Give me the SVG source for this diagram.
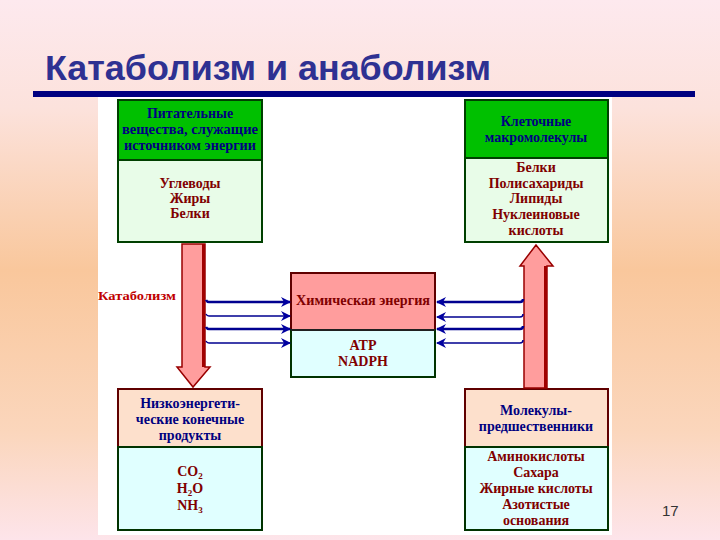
<svg xmlns="http://www.w3.org/2000/svg" width="720" height="540" viewBox="0 0 720 540">
<defs>
<linearGradient id="bg" x1="0" y1="0" x2="0" y2="1">
<stop offset="0" stop-color="#fde9ee"/>
<stop offset="0.2" stop-color="#fce2dc"/>
<stop offset="0.5" stop-color="#f9c79c"/>
<stop offset="0.8" stop-color="#fbd6bc"/>
<stop offset="1" stop-color="#fde4ea"/>
</linearGradient>
<marker id="ah" viewBox="0 0 10 10" refX="9" refY="5" markerWidth="10" markerHeight="10" markerUnits="userSpaceOnUse" orient="auto">
<path d="M0,0 L10,5 L0,10 L3,5 Z" fill="#0000a0"/>
</marker>
<style>
.hd{font-family:"Liberation Serif",serif;font-weight:bold;font-size:14px;fill:#000080;text-anchor:middle}
.bd{font-family:"Liberation Serif",serif;font-weight:bold;font-size:14px;fill:#800000;text-anchor:middle}
.gh{fill:#00c000;stroke:#004000;stroke-width:2}
.gb{fill:#e8fce8;stroke:#004000;stroke-width:2}
.ph{fill:#fde0cc;stroke:#600000;stroke-width:2}
.cb{fill:#e0ffff;stroke:#003300;stroke-width:2}
.bl{stroke:#000090;fill:none}
</style>
</defs>
<rect width="720" height="540" fill="url(#bg)"/>
<rect x="98" y="97" width="514" height="438" fill="#ffffff"/>
<text x="45" y="80" font-family="Liberation Sans, Arial, sans-serif" font-weight="bold" font-size="35" fill="#2e3192" textLength="446" lengthAdjust="spacingAndGlyphs">Катаболизм и анаболизм</text>
<rect x="33" y="91" width="662" height="6" fill="#000080"/>

<g id="nutrients">
<rect class="gh" x="118" y="100" width="144" height="60"/>
<rect class="gb" x="118" y="160" width="144" height="82"/>
<text class="hd" x="190" y="118">Питательные</text>
<text class="hd" x="190" y="134" textLength="136" lengthAdjust="spacingAndGlyphs">вещества, служащие</text>
<text class="hd" x="190" y="150" textLength="132" lengthAdjust="spacingAndGlyphs">источником энергии</text>
<text class="bd" x="190" y="188">Углеводы</text>
<text class="bd" x="190" y="203">Жиры</text>
<text class="bd" x="190" y="218">Белки</text>
</g>

<g id="macromolecules">
<rect class="gh" x="465" y="100" width="143" height="58"/>
<rect class="gb" x="465" y="158" width="143" height="84"/>
<text class="hd" x="536" y="126">Клеточные</text>
<text class="hd" x="536" y="142">макромолекулы</text>
<text class="bd" x="536" y="172">Белки</text>
<text class="bd" x="536" y="188">Полисахариды</text>
<text class="bd" x="536" y="203">Липиды</text>
<text class="bd" x="536" y="219">Нуклеиновые</text>
<text class="bd" x="536" y="235">кислоты</text>
</g>

<g id="energy">
<rect x="291" y="273" width="144" height="57" fill="#ff9d9d" stroke="#600000" stroke-width="2"/>
<rect class="cb" x="291" y="330" width="144" height="47"/>
<line x1="291" y1="330" x2="435" y2="330" stroke="#202020" stroke-width="2"/>
<text class="bd" x="363" y="305" textLength="134" lengthAdjust="spacingAndGlyphs">Химическая энергия</text>
<text class="bd" x="363" y="350">ATP</text>
<text class="bd" x="363" y="366">NADPH</text>
</g>

<g id="endproducts">
<rect class="ph" x="118" y="389" width="144" height="58"/>
<rect class="cb" x="118" y="447" width="144" height="83"/>
<text class="hd" x="190" y="408">Низкоэнергети-</text>
<text class="hd" x="190" y="424">ческие конечные</text>
<text class="hd" x="190" y="440">продукты</text>
<text class="bd" x="190" y="476" font-weight="normal" font-size="15">CO<tspan font-size="9" dy="3">2</tspan></text>
<text class="bd" x="190" y="493" font-weight="normal" font-size="15">H<tspan font-size="9" dy="3">2</tspan><tspan dy="-3">O</tspan></text>
<text class="bd" x="190" y="510" font-weight="normal" font-size="15">NH<tspan font-size="9" dy="3">3</tspan></text>
</g>

<g id="precursors">
<rect class="ph" x="465" y="389" width="143" height="58"/>
<rect class="cb" x="465" y="447" width="143" height="83"/>
<text class="hd" x="536" y="415">Молекулы-</text>
<text class="hd" x="536" y="431">предшественники</text>
<text class="bd" x="536" y="461">Аминокислоты</text>
<text class="bd" x="536" y="477">Сахара</text>
<text class="bd" x="536" y="493">Жирные кислоты</text>
<text class="bd" x="536" y="509">Азотистые</text>
<text class="bd" x="536" y="525">основания</text>
</g>

<g id="catabolism">
<path d="M182,244 L205,244 L205,367 L210,367 L193,387 L177,367 L182,367 Z" fill="#ff9d9d" stroke="#990000" stroke-width="1.5"/>
<rect x="202" y="244" width="3" height="123" fill="#a00000"/>
<text x="98" y="300" font-family="Liberation Serif, serif" font-weight="bold" font-size="13" fill="#c00000" textLength="78" lengthAdjust="spacingAndGlyphs">Катаболизм</text>
</g>

<g id="anabolism">
<path d="M524,388 L547,388 L547,266 L553,266 L536,245 L520,266 L524,266 Z" fill="#ff9d9d" stroke="#990000" stroke-width="1.5"/>
<rect x="544" y="266" width="3" height="122" fill="#a00000"/>
</g>

<g id="connectors">
<path class="bl" stroke-width="2.5" d="M206,300 q1,2 3,2 L290,302" marker-end="url(#ah)"/>
<path class="bl" stroke-width="1.5" d="M206,314 q1,2 3,2 L290,316" marker-end="url(#ah)"/>
<path class="bl" stroke-width="2.5" d="M206,327 q1,2 3,2 L290,329" marker-end="url(#ah)"/>
<path class="bl" stroke-width="1.5" d="M206,341 q1,2 3,2 L290,343" marker-end="url(#ah)"/>
<path class="bl" stroke-width="2.5" d="M523,299 q0,3 -3,3 L437,302" marker-end="url(#ah)"/>
<path class="bl" stroke-width="1.5" d="M523,314 q0,3 -3,3 L437,317" marker-end="url(#ah)"/>
<path class="bl" stroke-width="2.5" d="M523,326 q0,3 -3,3 L437,329" marker-end="url(#ah)"/>
<path class="bl" stroke-width="1.5" d="M523,340 q0,3 -3,3 L437,343" marker-end="url(#ah)"/>
</g>

<text x="662" y="516" font-family="Liberation Sans, Arial, sans-serif" font-size="15" fill="#333333">17</text>
</svg>
